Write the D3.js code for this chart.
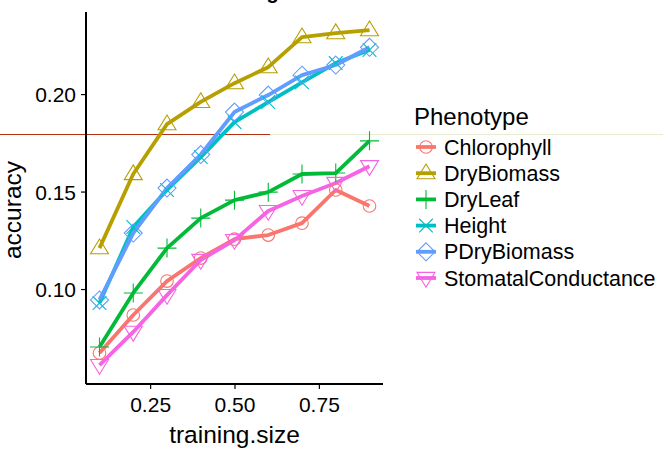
<!DOCTYPE html>
<html>
<head>
<meta charset="utf-8">
<script src="https://cdn.jsdelivr.net/npm/d3@7"></script>
<style>
  html, body { margin: 0; padding: 0; background: #fff; }
  svg { display: block; font-family: "Liberation Sans", Arial, Helvetica, sans-serif; }
</style>
</head>
<body>
<svg id="chart" width="663" height="450"></svg>
<script>
// Training-size learning curves, one series per phenotype
const trainingSize = [0.1, 0.2, 0.3, 0.4, 0.5, 0.6, 0.7, 0.8, 0.9];
const phenotypes = ["Chlorophyll", "DryBiomass", "DryLeaf", "Height", "PDryBiomass", "StomatalConductance"];
const chlorophyll = [0.0672, 0.0867, 0.1041, 0.1159, 0.1256, 0.1277, 0.1338, 0.1508, 0.1426];
const dryBiomass  = [0.1210, 0.1590, 0.1846, 0.1960, 0.2056, 0.2138, 0.2292, 0.2313, 0.2328];
const dryLeaf     = [0.0703, 0.0980, 0.1210, 0.1364, 0.1456, 0.1497, 0.1590, 0.1595, 0.1760];
const height      = [0.0928, 0.1318, 0.1508, 0.1677, 0.1856, 0.1959, 0.2060, 0.2159, 0.2226];
const pDryBiomass = [0.0944, 0.1287, 0.1518, 0.1690, 0.1908, 0.1995, 0.2097, 0.2149, 0.2240];
const stomatal    = [0.0610, 0.0780, 0.0969, 0.1149, 0.1251, 0.1400, 0.1477, 0.1544, 0.1630];
const xTicks = [0.25, 0.50, 0.75];
const yTicks = [0.10, 0.15, 0.20];
const colors = ["#F8766D", "#B79F00", "#00BA38", "#00BFC4", "#619CFF", "#F564E3"];

const seriesValues = [chlorophyll, dryBiomass, dryLeaf, height, pDryBiomass, stomatal];
const series = phenotypes.map((name, i) => ({
  name, color: colors[i], shape: i,
  points: trainingSize.map((x, j) => ({ x, y: seriesValues[i][j] }))
}));

const svg = d3.select("#chart");
const panel = { left: 86, right: 383, top: 12, bottom: 384 };

const x = d3.scaleLinear().domain([0.06, 0.94]).range([panel.left, panel.right]);
const y = d3.scaleLinear().domain([0.0513, 0.2421]).range([panel.bottom, panel.top]);

// Chart title (sits mostly above the canvas)
svg.append("text")
  .attr("x", 201).attr("y", -1)
  .attr("font-size", 20).attr("font-weight", "bold")
  .text("Training");

// Reference rule
svg.append("line").attr("x1", 0).attr("x2", 270).attr("y1", 134.5).attr("y2", 134.5)
  .attr("stroke", "#b5300f").attr("stroke-width", 1);
svg.append("line").attr("x1", 270).attr("x2", 663).attr("y1", 134.5).attr("y2", 134.5)
  .attr("stroke", "#e8edd2").attr("stroke-width", 1);

// Axes
const xAxis = d3.axisBottom(x).tickValues(xTicks).tickFormat(d3.format(".2f")).tickSizeOuter(0).tickSize(5).tickPadding(4);
const yAxis = d3.axisLeft(y).tickValues(yTicks).tickFormat(d3.format(".2f")).tickSizeOuter(0).tickSize(5).tickPadding(5);

const gx = svg.append("g").attr("transform", `translate(0,${panel.bottom})`).call(xAxis);
const gy = svg.append("g").attr("transform", `translate(${panel.left},0)`).call(yAxis);
[gx, gy].forEach(g => {
  g.select(".domain").remove();
  g.selectAll(".tick line").attr("stroke", "#000").attr("stroke-width", 1.2);
  g.selectAll(".tick text").attr("fill", "#000").attr("font-size", 21)
    .attr("font-family", "'Liberation Sans', Arial, sans-serif");
});
gx.selectAll(".tick text").attr("dy", "0.9em");
gy.selectAll(".tick text").attr("dy", "0.36em");

svg.append("line").attr("x1", panel.left).attr("x2", panel.left)
  .attr("y1", panel.top).attr("y2", panel.bottom).attr("stroke", "#000").attr("stroke-width", 2);
svg.append("line").attr("x1", panel.left).attr("x2", panel.right)
  .attr("y1", panel.bottom).attr("y2", panel.bottom).attr("stroke", "#000").attr("stroke-width", 2);

// Axis titles
svg.append("text").attr("x", (panel.left + panel.right) / 2).attr("y", 443)
  .attr("text-anchor", "middle").attr("font-size", 24.5).text("training.size");
svg.append("text").attr("transform", `translate(21,${(panel.top + panel.bottom) / 2 + 12}) rotate(-90)`)
  .attr("text-anchor", "middle").attr("font-size", 24.5).text("accuracy");

// Marker shapes: circle, triangle, plus, cross, diamond, down-triangle
function shapePath(k, s) {
  const r = s / 2;
  switch (k) {
    case 0: return d3.symbol(d3.symbolCircle, Math.PI * 6.3 * 6.3)();
    case 1: { const h = r * 1.73 * 0.95; return `M0,${-h * 0.62}L${r},${h * 0.38}L${-r},${h * 0.38}Z`; }
    case 2: return `M${-r},0L${r},0M0,${-r}L0,${r}`;
    case 3: { const c = r * 0.72; return `M${-c},${-c}L${c},${c}M${-c},${c}L${c},${-c}`; }
    case 4: return `M0,${-r}L${r},0L0,${r}L${-r},0Z`;
    case 5: { const h = r * 1.73 * 0.95; return `M0,${h * 0.62}L${r},${-h * 0.38}L${-r},${-h * 0.38}Z`; }
  }
}
const shapeSize = [13, 18, 19, 19, 18, 18];

const line = d3.line().x(d => x(d.x)).y(d => y(d.y));

// All lines first, then points
svg.append("g").selectAll("path").data(series).join("path")
  .attr("d", d => line(d.points))
  .attr("fill", "none").attr("stroke", d => d.color)
  .attr("stroke-width", 3.8).attr("stroke-linejoin", "round");

series.forEach(s => {
  svg.append("g").selectAll("path").data(s.points).join("path")
    .attr("transform", d => `translate(${x(d.x)},${y(d.y)})`)
    .attr("d", shapePath(s.shape, shapeSize[s.shape]))
    .attr("fill", "none").attr("stroke", s.color).attr("stroke-width", 1.1);
});

// Legend
const legend = svg.append("g");
legend.append("text").attr("x", 414).attr("y", 125).attr("font-size", 24).text("Phenotype");
series.forEach((s, i) => {
  const cy = 147 + i * 26.2;
  const g = legend.append("g");
  g.append("line").attr("x1", 416).attr("x2", 436).attr("y1", cy).attr("y2", cy)
    .attr("stroke", s.color).attr("stroke-width", 3.8);
  g.append("path").attr("transform", `translate(426,${cy})`)
    .attr("d", shapePath(s.shape, shapeSize[s.shape]))
    .attr("fill", "none").attr("stroke", s.color).attr("stroke-width", 1.1);
  g.append("text").attr("x", 444).attr("y", cy + 7.6).attr("font-size", 21.5).text(s.name);
});
</script>
</body>
</html>
